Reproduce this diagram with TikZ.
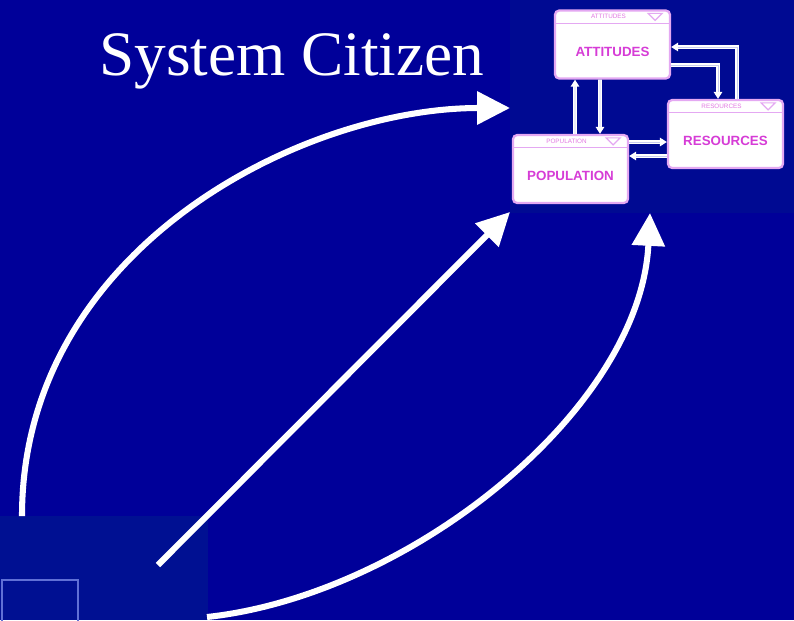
\documentclass[tikz,border=0pt]{standalone}
\usepackage{fontspec}
\setmainfont{Liberation Serif}
\newfontfamily\boxfont{Liberation Sans}
\usetikzlibrary{arrows.meta,calc}
\definecolor{slide}{RGB}{0,0,153}
\definecolor{inset}{RGB}{0,10,146}
\definecolor{corner}{RGB}{0,16,146}
\definecolor{frame}{RGB}{228,168,242}
\definecolor{boxtext}{RGB}{214,60,214}
\definecolor{hdtextc}{RGB}{226,120,226}
\definecolor{cornerline}{RGB}{96,112,214}
\definecolor{flowcore}{RGB}{200,205,240}

\begin{document}
\begin{tikzpicture}[x=0.025cm,y=-0.025cm,
    modbox/.style={draw=frame,line width=1.6pt,fill=white,rounded corners=3pt,
      minimum width=2.875cm,minimum height=1.7cm,inner sep=0pt},
    bodytext/.style={text=boxtext,font=\boxfont\bfseries\fontsize{9.5}{9.5}\selectfont,inner sep=0pt},
    hdtext/.style={text=hdtextc,font=\boxfont\fontsize{4.5}{4.5}\selectfont,inner sep=0pt},
    flow/.style={draw=white,line width=2.6pt,-{Triangle[length=5pt,width=6pt]},
      postaction={draw=flowcore,line width=0.6pt,-,shorten >=5pt}},
    bigarrow/.style={draw=white,line width=4.3pt,-{Triangle[length=0.82cm,width=0.8cm]}}]
    \fill[slide] (0,0) rectangle (794,620);
    \useasboundingbox (0,0) rectangle (794,620);
    \node[fill=inset,minimum width=7.1cm,minimum height=5.325cm,anchor=north west,inner sep=0pt] (shot) at (510,0) {};
    \node[fill=corner,minimum width=5.2cm,minimum height=2.6cm,anchor=north west,inner sep=0pt] (corner) at (0,516) {};
    \draw [cornerline,line width=1pt] (2,580) rectangle (78,626);
    \node [text=white,font=\fontsize{45}{45}\selectfont,anchor=base west,inner sep=0pt] (title) at (99,75) {System Citizen};
    \node [modbox] (att) at (612.5,44.5) {};
    \node [modbox] (res) at (725.5,134) {};
    \node [modbox] (pop) at (570.5,169) {};
    \foreach \b/\t in {att/ATTITUDES,res/RESOURCES,pop/POPULATION}{
      \draw [frame,line width=0.8pt] ($(\b.north west)+(0,14)$) -- ($(\b.north east)+(0,14)$);
      \node [hdtext] at ($(\b.north)+(-4,7)$) {\t};
      \draw [frame,line width=0.8pt] ($(\b.north east)+(-23,4)$) -- ++(14,0) -- ++(-7,7) -- cycle;
      \node [bodytext] at ($(\b.center)+(0,7)$) {\t};
    }
    \draw [flow] ($(pop.north)+(4.5,0)$) -- ($(att.south)+(-37.5,0)$);
    \draw [flow] ($(att.south)+(-12.5,0)$) -- ($(pop.north)+(29.5,0)$);
    \draw [flow] ($(att.east)+(0,20.5)$) -| ($(res.north)+(-7.5,0)$);
    \draw [flow] ($(res.north)+(11.5,0)$) |- ($(att.east)+(0,2.5)$);
    \draw [flow] ($(pop.east)+(0,-27)$) -- ($(res.west)+(0,8)$);
    \draw [flow] ($(res.west)+(0,22)$) -- ($(pop.east)+(0,-13)$);
    \coordinate (a1) at (22,516);
    \coordinate (b1) at (510,108);
    \coordinate (a2) at (158,565);
    \coordinate (b2) at (510,212);
    \coordinate (a3) at (207,617);
    \coordinate (b3) at (650,213);
    \draw [bigarrow] (a1) .. controls (22,250) and (300,108) .. (b1);
    \draw [bigarrow] (a2) -- (b2);
    \draw [bigarrow] (a3) .. controls (410,595) and (640,410) .. (b3);
  \end{tikzpicture}
\end{document}
